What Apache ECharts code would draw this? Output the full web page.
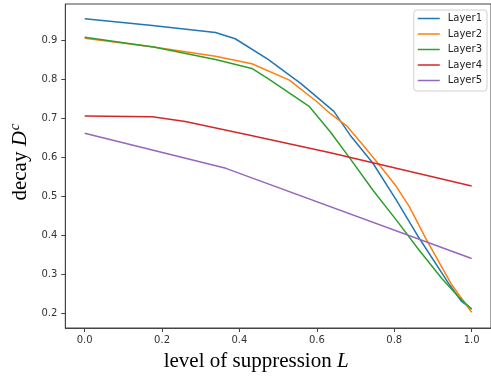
<!DOCTYPE html>
<html>
<head>
<meta charset="utf-8">
<script src="https://cdn.jsdelivr.net/npm/echarts@6/dist/echarts.min.js"></script>
<style>
html,body{margin:0;padding:0;background:#fff;}
#chart{width:491px;height:381px;}
</style>
</head>
<body>
<div id="chart"></div>
<script>
// ---- data ----
const seriesNames = ['Layer1', 'Layer2', 'Layer3', 'Layer4', 'Layer5'];

const layer1L = [0, 0.175, 0.338, 0.389, 0.474, 0.559, 0.644, 0.686, 0.745, 0.805, 0.86, 0.94, 0.974, 1.0];
const layer1D = [0.955, 0.938, 0.920, 0.904, 0.851, 0.789, 0.718, 0.657, 0.585, 0.491, 0.400, 0.278, 0.231, 0.212];

const layer2L = [0, 0.178, 0.338, 0.432, 0.529, 0.601, 0.635, 0.678, 0.712, 0.762, 0.805, 0.839, 0.881, 0.949, 1.0];
const layer2D = [0.905, 0.883, 0.859, 0.840, 0.798, 0.742, 0.712, 0.680, 0.640, 0.580, 0.526, 0.474, 0.393, 0.273, 0.203];

const layer3L = [0, 0.178, 0.338, 0.432, 0.474, 0.58, 0.635, 0.686, 0.745, 0.805, 0.864, 0.923, 0.966, 1.0];
const layer3D = [0.908, 0.883, 0.851, 0.828, 0.802, 0.731, 0.665, 0.597, 0.516, 0.440, 0.363, 0.290, 0.243, 0.211];

const layer4L = [0, 0.175, 0.26, 0.427, 0.635, 1.0];
const layer4D = [0.706, 0.704, 0.692, 0.657, 0.612, 0.527];

const layer5L = [0, 0.365, 1.0];
const layer5D = [0.662, 0.572, 0.341];

const xTicks = [0.0, 0.2, 0.4, 0.6, 0.8, 1.0];
const yTicks = [0.2, 0.3, 0.4, 0.5, 0.6, 0.7, 0.8, 0.9];

// ---- build ----
const colors = ['#1f77b4', '#ff7f0e', '#2ca02c', '#d62728', '#9467bd'];
const xs = [layer1L, layer2L, layer3L, layer4L, layer5L];
const ys = [layer1D, layer2D, layer3D, layer4D, layer5D];

function pairs(a, b) { return a.map((v, i) => [v, b[i]]); }

const chart = echarts.init(document.getElementById('chart'), null, {renderer: 'canvas'});
const tickFont = {fontFamily: 'DejaVu Sans', fontSize: 10, color: '#333'};
const serif = 'Liberation Serif';
const lineIcon = 'path://M0,0L22,0L22,1.5L0,1.5Z';

chart.setOption({
  animation: false,
  backgroundColor: '#fff',
  color: colors,
  grid: {
    left: 60, top: 4, width: 433, height: 324,
    show: true, borderColor: '#444', borderWidth: 1, backgroundColor: 'transparent'
  },
  legend: {
    orient: 'vertical',
    right: 4, top: 10,
    padding: [3.5, 5, 5.5, 4],
    itemWidth: 22, itemHeight: 10, itemGap: 5.5,
    backgroundColor: 'rgba(255,255,255,0.8)',
    borderColor: '#d0d0d0', borderWidth: 1, borderRadius: 3,
    textStyle: {fontFamily: 'DejaVu Sans', fontSize: 10, color: '#222', padding: [0, 0, 0, 3]},
    data: seriesNames.map(n => ({name: n, icon: lineIcon}))
  },
  xAxis: {
    type: 'value', min: -0.05, max: 1.05,
    name: '{n|level of suppression }{i|L}',
    nameLocation: 'middle', nameGap: 23,
    nameTextStyle: {
      padding: [0, 44, 0, 0],
      rich: {
        n: {fontFamily: serif, fontSize: 21, color: '#000'},
        i: {fontFamily: serif, fontSize: 21, fontStyle: 'italic', color: '#000'}
      }
    },
    axisLine: {show: true, onZero: false, lineStyle: {color: '#444', width: 1}},
    axisTick: {show: true, length: 4, customValues: xTicks, lineStyle: {color: '#444'}},
    axisLabel: Object.assign({customValues: xTicks, margin: 7, formatter: v => v.toFixed(1)}, tickFont),
    splitLine: {show: false}
  },
  yAxis: {
    type: 'value', min: 0.163, max: 0.993,
    name: '{n|decay }{i|D}{s|c}',
    nameLocation: 'middle', nameGap: 30,
    nameTextStyle: {
      padding: [0, 0, 0, 8],
      rich: {
        n: {fontFamily: serif, fontSize: 21, color: '#000'},
        i: {fontFamily: serif, fontSize: 21, fontStyle: 'italic', color: '#000'},
        s: {fontFamily: serif, fontSize: 15, fontStyle: 'italic', color: '#000', padding: [0, 0, 9, 1]}
      }
    },
    axisLine: {show: true, onZero: false, lineStyle: {color: '#444', width: 1}},
    axisTick: {show: true, length: 4, customValues: yTicks, lineStyle: {color: '#444'}},
    axisLabel: Object.assign({customValues: yTicks, margin: 8, formatter: v => v.toFixed(1)}, tickFont),
    splitLine: {show: false}
  },
  series: seriesNames.map((name, i) => ({
    name: name,
    type: 'line',
    data: pairs(xs[i], ys[i]),
    symbol: 'none',
    smooth: false,
    lineStyle: {width: 1.5, color: colors[i]},
    itemStyle: {color: colors[i]},
    z: 2 + i
  }))
});
</script>
</body>
</html>
